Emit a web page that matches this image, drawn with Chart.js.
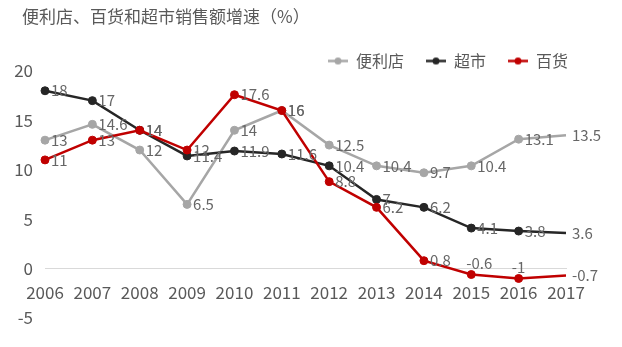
<!DOCTYPE html>
<html>
<head>
<meta charset="utf-8">
<script src="https://cdn.jsdelivr.net/npm/chart.js@4/dist/chart.umd.min.js"></script>
<style>
  html, body { margin: 0; padding: 0; background: #fff; }
  canvas { display: block; }
</style>
</head>
<body>
<canvas id="salesChart" width="622" height="347"></canvas>
<script>
const years = ["2006", "2007", "2008", "2009", "2010", "2011", "2012", "2013", "2014", "2015", "2016", "2017"];
const bianlidian = [13, 14.6, 12, 6.5, 14, 16, 12.5, 10.4, 9.7, 10.4, 13.1, 13.5];
const chaoshi = [18, 17, 14, 11.4, 11.9, 11.6, 10.4, 7, 6.2, 4.1, 3.8, 3.6];
const baihuo = [11, 13, 14, 12, 17.6, 16, 8.8, 6.2, 0.8, -0.6, -1, -0.7];
const yTicks = [-5, 0, 5, 10, 15, 20];

const textColor = "#595959";
const colors = ["#a6a6a6", "#262626", "#c00000"];

// labels drawn above the point instead of to the right (by dataset index)
const labelsAbove = { 2: [9, 10] };

// no marker on the last point of each line
const radii = years.map((y, i) => (i === years.length - 1 ? 0 : 4));

// small line + dot swatch for the legend
function swatch(color) {
  const c = document.createElement("canvas");
  c.width = 20;
  c.height = 9;
  const g = c.getContext("2d");
  g.strokeStyle = color;
  g.lineWidth = 2.5;
  g.beginPath();
  g.moveTo(0, 4.5);
  g.lineTo(20, 4.5);
  g.stroke();
  g.fillStyle = color;
  g.beginPath();
  g.arc(10, 4.5, 3.5, 0, Math.PI * 2);
  g.fill();
  return c;
}
const swatches = colors.map(swatch);

const valueLabels = {
  id: "valueLabels",
  afterLayout(chart) {
    // title sits a little right of the y tick labels
    if (chart.titleBlock) chart.titleBlock.left = 22;
  },
  afterDatasetsDraw(chart) {
    const ctx = chart.ctx;
    ctx.save();
    ctx.font = '15px "Noto Sans CJK SC"';
    ctx.fillStyle = "#666666";
    chart.data.datasets.forEach((ds, i) => {
      const meta = chart.getDatasetMeta(i);
      const above = labelsAbove[i] || [];
      meta.data.forEach((pt, j) => {
        const text = String(ds.data[j]);
        if (above.includes(j)) {
          ctx.textAlign = "center";
          ctx.textBaseline = "bottom";
          ctx.fillText(text, pt.x + (j === 9 ? 8 : 0), pt.y - 4);
        } else {
          ctx.textAlign = "left";
          ctx.textBaseline = "middle";
          ctx.fillText(text, pt.x + 6, pt.y);
        }
      });
    });
    ctx.restore();
  }
};

Chart.defaults.font.family = '"Noto Sans CJK SC", "Noto Sans", sans-serif';
Chart.defaults.color = textColor;

function lineSet(label, data, color, order) {
  return {
    label: label,
    data: data,
    borderColor: color,
    backgroundColor: color,
    borderWidth: 2.5,
    pointRadius: radii,
    pointBackgroundColor: color,
    pointBorderColor: color,
    pointBorderWidth: 1,
    tension: 0,
    order: order
  };
}

const ctx = document.getElementById("salesChart").getContext("2d");
const chart = new Chart(ctx, {
  type: "line",
  data: {
    labels: years,
    datasets: [
      lineSet("便利店", bianlidian, colors[0], 3),
      lineSet("超市", chaoshi, colors[1], 2),
      lineSet("百货", baihuo, colors[2], 1)
    ]
  },
  options: {
    responsive: false,
    animation: false,
    devicePixelRatio: 1,
    layout: { padding: { left: 10, right: 32, top: 0, bottom: 29 } },
    plugins: {
      title: {
        display: true,
        text: "便利店、百货和超市销售额增速（%）",
        align: "start",
        color: textColor,
        font: { size: 17, weight: "normal" },
        padding: { top: 6.8, bottom: 3.8 }
      },
      legend: {
        position: "top",
        align: "end",
        maxHeight: 40,
        labels: {
          usePointStyle: true,
          pointStyleWidth: 20,
          padding: 22,
          color: textColor,
          font: { size: 16 },
          sort: (a, b) => a.datasetIndex - b.datasetIndex,
          generateLabels(chart) {
            const items = Chart.defaults.plugins.legend.labels.generateLabels(chart);
            items.forEach((it) => { it.pointStyle = swatches[it.datasetIndex]; });
            return items;
          }
        }
      },
      tooltip: { enabled: false }
    },
    scales: {
      x: {
        type: "category",
        offset: false,
        position: { y: 0 },
        grid: { display: false, drawTicks: false },
        border: { display: true, color: "#d9d9d9", width: 1 },
        ticks: { padding: 13.4, color: textColor, font: { size: 17 }, maxRotation: 0, autoSkip: false },
        afterFit(scale) { scale.paddingRight = 56; }
      },
      y: {
        min: -5,
        max: 20,
        grid: { display: false, drawTicks: false },
        border: { display: false },
        ticks: { padding: 12, color: textColor, font: { size: 17 }, stepSize: 5 },
        afterBuildTicks(scale) { scale.ticks = yTicks.map((v) => ({ value: v })); },
        afterFit(scale) { scale.width = 35; }
      }
    }
  },
  plugins: [valueLabels]
});
</script>
</body>
</html>
